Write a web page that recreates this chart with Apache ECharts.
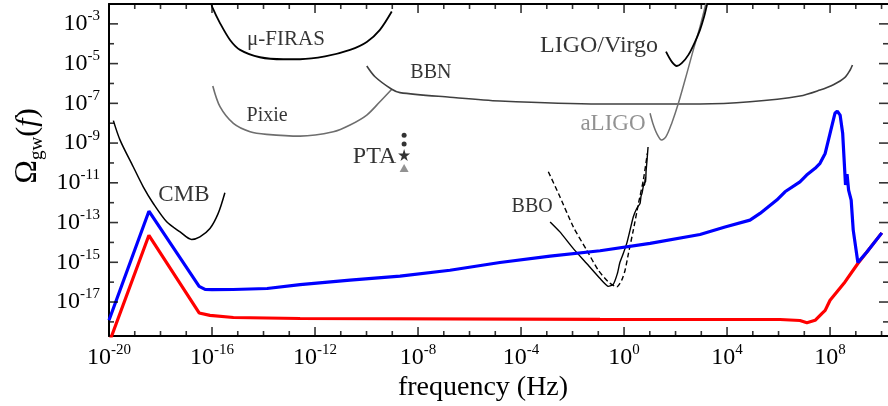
<!DOCTYPE html>
<html><head><meta charset="utf-8">
<script src="https://cdn.jsdelivr.net/npm/echarts@6/dist/echarts.min.js"></script>
<style>html,body{margin:0;padding:0;background:#fff}#c{width:888px;height:406px}</style>
</head><body><div id="c"></div>
<script>
// ---- axis ranges / ticks (log10 exponents) ----
const X_MIN = -20, X_MAX = 10.25;
const Y_MIN = -18.71, Y_MAX = -2.0;
const xTickExp = [-20, -16, -12, -8, -4, 0, 4, 8];
const xMinorExp = [-19, -18, -17, -15, -14, -13, -11, -10, -9, -7, -6, -5, -3, -2, -1, 1, 2, 3, 5, 6, 7, 9, 10];
const yTickExp = [-17, -15, -13, -11, -9, -7, -5, -3];
const yMinorExp = [-18, -16, -14, -12, -10, -8, -6, -4];

// ---- curves: log10(frequency / Hz) and log10(Omega_gw) ----
const blueLogF = [-20, -18.45, -16.5, -16.27, -16.0, -15.18, -13.86, -12.58, -10.64, -8.70, -6.76, -4.82, -2.87, -0.93, 1.01, 2.95, 3.92, 4.89, 5.28, 5.93, 6.25, 6.83, 7.09, 7.42, 7.61, 7.81, 8.0, 8.19, 8.28, 8.39, 8.49, 8.54, 8.60, 8.66, 8.72, 8.82, 8.90, 9.08, 9.43, 10.01];
const blueLogOmega = [-17.92, -12.43, -16.21, -16.36, -16.38, -16.37, -16.32, -16.12, -15.90, -15.70, -15.40, -15.01, -14.69, -14.42, -14.05, -13.60, -13.22, -12.88, -12.54, -11.87, -11.45, -10.95, -10.61, -10.27, -10.02, -9.52, -8.51, -7.50, -7.39, -7.59, -8.51, -9.69, -11.11, -10.56, -11.37, -11.87, -13.38, -15.01, -14.48, -13.52];

const redLogF = [-19.96, -18.45, -16.5, -16.08, -15.17, -12.58, -0.93, 6.06, 6.83, 7.10, 7.42, 7.68, 7.81, 8.0, 8.58, 9.08, 9.43, 10.01];
const redLogOmega = [-18.93, -13.64, -17.55, -17.67, -17.78, -17.83, -17.87, -17.88, -17.93, -18.04, -17.92, -17.58, -17.42, -16.91, -15.99, -15.06, -14.48, -13.52];

const cmbLogF = [-19.83, -19.57, -19.06, -18.67, -18.28, -17.76, -17.24, -16.79, -16.47, -16.08, -15.76, -15.50];
const cmbLogOmega = [-7.87, -8.85, -10.19, -11.20, -12.04, -12.96, -13.47, -13.85, -13.72, -13.30, -12.54, -11.50];

const firasLogF = [-16.02, -15.99, -15.69, -15.30, -14.91, -14.14, -13.23, -12.58, -11.61, -10.64, -9.99, -9.48, -9.02];
const firasLogOmega = [-1.99, -2.16, -2.96, -3.81, -4.31, -4.68, -4.78, -4.78, -4.64, -4.31, -3.91, -3.30, -2.38];

const pixieLogF = [-15.97, -15.69, -15.17, -14.52, -13.88, -12.58, -11.29, -10.64, -9.99, -9.48, -9.02];
const pixieLogOmega = [-6.13, -7.17, -8.01, -8.43, -8.56, -8.65, -8.43, -8.09, -7.59, -6.92, -6.29];

const bbnLogF = [-9.99, -9.67, -9.02, -8.70, -6.76, -4.82, -0.93, 2.95, 4.89, 6.83, 7.61, 8.13, 8.58, 8.78, 8.87];
const bbnLogOmega = [-5.12, -5.66, -6.29, -6.46, -6.69, -6.88, -7.03, -7.03, -6.92, -6.63, -6.33, -6.06, -5.69, -5.32, -5.07];

const ligoLogF = [1.63, 1.85, 2.05, 2.24, 2.50, 2.76, 2.95, 3.11, 3.22];
const ligoLogOmega = [-4.40, -4.90, -5.12, -4.98, -4.56, -3.89, -3.30, -2.63, -2.04];

const aligoLogF = [1.01, 1.12, 1.27, 1.46, 1.63, 1.85, 2.11, 2.44, 2.69, 2.95, 3.15, 3.18];
const aligoLogOmega = [-7.50, -8.01, -8.51, -8.85, -8.68, -8.01, -7.00, -5.49, -4.31, -3.14, -2.13, -1.96];

const bboLogF = [-2.87, -2.49, -1.97, -1.45, -0.93, -0.61, -0.42, -0.26, -0.16, -0.03, 0.105, 0.233, 0.361, 0.493, 0.621, 0.66, 0.699, 0.777, 0.80, 0.82, 0.84, 0.854, 0.893, 0.932];
const bboLogOmega = [-12.97, -13.47, -14.31, -15.06, -15.82, -16.21, -16.11, -15.57, -15.00, -14.56, -14.05, -13.38, -12.71, -12.29, -12.04, -11.67, -11.52, -11.01, -11.12, -10.76, -10.96, -10.46, -9.86, -9.20];

const bboDashLogF = [-2.94, -2.49, -1.97, -1.45, -1.00, -0.61, -0.28, -0.09, 0.04, 0.17, 0.36, 0.56, 0.75, 0.905];
const bboDashLogOmega = [-10.44, -11.70, -13.22, -14.39, -15.40, -15.99, -16.24, -15.90, -15.40, -14.56, -13.38, -12.04, -10.86, -9.52];

// PTA markers
const ptaLogF = -8.54;
const ptaDotLogOmega = [-8.60, -9.05];
const ptaStarLogOmega = [-9.60];
const ptaTriLogOmega = [-10.26];

// annotation texts and their positions
const annoNames = ['\u03bc-FIRAS', 'Pixie', 'BBN', 'LIGO/Virgo', 'aLIGO', 'BBO', 'CMB', 'PTA'];
const annoLogF = [-13.13, -13.86, -7.50, -0.97, -0.43, -3.57, -17.09, -9.69];
const annoLogOmega = [-3.81, -7.64, -5.47, -4.11, -8.04, -12.22, -11.59, -9.70];

// ---- styles ----
const FONT = "'Liberation Serif','Times New Roman',serif";
const annoStyle = [
  {fontSize: 21, color: '#000'}, {fontSize: 20, color: '#000'}, {fontSize: 20, color: '#000'},
  {fontSize: 24, color: '#000'}, {fontSize: 23, color: '#777'}, {fontSize: 20, color: '#000'},
  {fontSize: 23, color: '#000'}, {fontSize: 24, color: '#000'}
];
const MAJOR_LEN = 9, MINOR_LEN = 5, TICK_W = 1.6;

const zip = (a, b) => a.map((v, i) => [v, b[i]]);
const richTick = {
  b: {fontSize: 24, lineHeight: 30, fontFamily: FONT, color: '#000'},
  s: {fontSize: 15, lineHeight: 15, fontFamily: FONT, color: '#000', verticalAlign: 'top'}
};
const fmt = v => '{b|10}{s|' + Math.round(v) + '}';

function axis(kind, pos, labelVals, showLine) {
  return {
    type: 'value', position: pos,
    min: kind === 'x' ? X_MIN : Y_MIN, max: kind === 'x' ? X_MAX : Y_MAX,
    axisLine: {show: showLine, onZero: false, lineStyle: {color: '#000', width: 2}},
    axisTick: {show: false},
    axisLabel: labelVals ? {show: true, customValues: labelVals, formatter: fmt, rich: richTick,
                            margin: kind === 'x' ? 7 : 9, hideOverlap: false} : {show: false},
    splitLine: {show: false}
  };
}

// tick marks drawn as small rectangles anchored on the frame, pointing inward
function tickSeries(points, w, h, off) {
  return {type: 'scatter', data: points, symbol: 'rect', symbolSize: [w, h], symbolOffset: off,
          itemStyle: {color: '#000'}, silent: true, clip: false, z: 7};
}
const tickSeriesList = [
  tickSeries(xTickExp.map(v => [v, Y_MIN]), TICK_W, MAJOR_LEN, [0, -MAJOR_LEN / 2]),
  tickSeries(xTickExp.map(v => [v, Y_MAX]), TICK_W, MAJOR_LEN, [0, MAJOR_LEN / 2]),
  tickSeries(xMinorExp.map(v => [v, Y_MIN]), TICK_W, MINOR_LEN, [0, -MINOR_LEN / 2]),
  tickSeries(xMinorExp.map(v => [v, Y_MAX]), TICK_W, MINOR_LEN, [0, MINOR_LEN / 2]),
  tickSeries(yTickExp.map(v => [X_MIN, v]), MAJOR_LEN, TICK_W, [MAJOR_LEN / 2, 0]),
  tickSeries(yTickExp.map(v => [X_MAX, v]), MAJOR_LEN, TICK_W, [-MAJOR_LEN / 2, 0]),
  tickSeries(yMinorExp.map(v => [X_MIN, v]), MINOR_LEN, TICK_W, [MINOR_LEN / 2, 0]),
  tickSeries(yMinorExp.map(v => [X_MAX, v]), MINOR_LEN, TICK_W, [-MINOR_LEN / 2, 0])
];

function line(name, fs, os, color, width, extra) {
  return Object.assign({
    type: 'line', name, data: zip(fs, os), showSymbol: false, symbol: 'none',
    lineStyle: {color, width}, clip: true, silent: true, z: 2
  }, extra || {});
}

const chart = echarts.init(document.getElementById('c'), null, {renderer: 'canvas'});
chart.setOption({
  animation: false,
  grid: {left: 109, right: 0, top: 4, bottom: 70, containLabel: false},
  xAxis: [axis('x', 'bottom', xTickExp, true), axis('x', 'top', null, true)],
  yAxis: [axis('y', 'left', yTickExp, true), axis('y', 'right', null, false)],
  series: tickSeriesList.concat([
    line('CMB', cmbLogF, cmbLogOmega, '#000', 1.5, {smooth: 0.3}),
    line('FIRAS', firasLogF, firasLogOmega, '#000', 1.8, {smooth: 0.3}),
    line('Pixie', pixieLogF, pixieLogOmega, '#6e6e6e', 1.6, {smooth: 0.3}),
    line('BBN', bbnLogF, bbnLogOmega, '#404040', 1.6, {smooth: 0.3}),
    line('aLIGO', aligoLogF, aligoLogOmega, '#707070', 1.5, {smooth: 0.3}),
    line('LIGO', ligoLogF, ligoLogOmega, '#000', 1.8, {smooth: 0.3}),
    line('BBO', bboLogF, bboLogOmega, '#000', 1.4, {smooth: 0.15}),
    line('BBOdash', bboDashLogF, bboDashLogOmega, '#000', 1.4, {smooth: 0.2,
      lineStyle: {color: '#000', width: 1.4, type: [5, 3]}}),
    line('red', redLogF, redLogOmega, '#ff0000', 3.2, {z: 3}),
    line('blue', blueLogF, blueLogOmega, '#0000ff', 3.2, {z: 4}),
    {type: 'scatter', data: ptaDotLogOmega.map(o => [ptaLogF, o]), symbol: 'circle', symbolSize: 5,
     itemStyle: {color: '#000'}, silent: true, z: 5},
    {type: 'scatter', data: ptaStarLogOmega.map(o => [ptaLogF, o]),
     symbol: 'path://M50,0 L61,35 L98,35 L68,57 L79,91 L50,70 L21,91 L32,57 L2,35 L39,35 Z',
     symbolSize: 12, itemStyle: {color: '#000'}, silent: true, z: 5},
    {type: 'scatter', data: ptaTriLogOmega.map(o => [ptaLogF, o]), symbol: 'triangle', symbolSize: [9, 8],
     itemStyle: {color: '#777'}, silent: true, z: 5},
    {type: 'scatter', symbolSize: 0, silent: true, z: 6,
     data: annoNames.map((n, i) => ({
       value: [annoLogF[i], annoLogOmega[i]], name: n,
       label: {show: true, position: 'inside', formatter: n, fontFamily: FONT,
               fontSize: annoStyle[i].fontSize, color: annoStyle[i].color}
     }))}
  ]),
  graphic: [
    {type: 'text', x: 483, y: 388, silent: true,
     style: {text: 'frequency (Hz)', fontFamily: FONT, fontSize: 28, fill: '#000',
             align: 'center', verticalAlign: 'middle'}},
    {type: 'text', x: 28, y: 146, rotation: Math.PI / 2, silent: true,
     style: {text: '{o|\u03a9}{s|gw}{p|(}{f|f}{p|)}', fontFamily: FONT, fontSize: 30, fill: '#000',
             align: 'center', verticalAlign: 'middle',
             rich: {
               o: {fontSize: 32, lineHeight: 38, fontFamily: FONT, fill: '#000'},
               s: {fontSize: 19, lineHeight: 19, fontFamily: FONT, fill: '#000', verticalAlign: 'bottom'},
               p: {fontSize: 30, lineHeight: 38, fontFamily: FONT, fill: '#000'},
               f: {fontSize: 30, lineHeight: 38, fontFamily: FONT, fill: '#000', fontStyle: 'italic'}
             }}}
  ]
});
</script></body></html>
